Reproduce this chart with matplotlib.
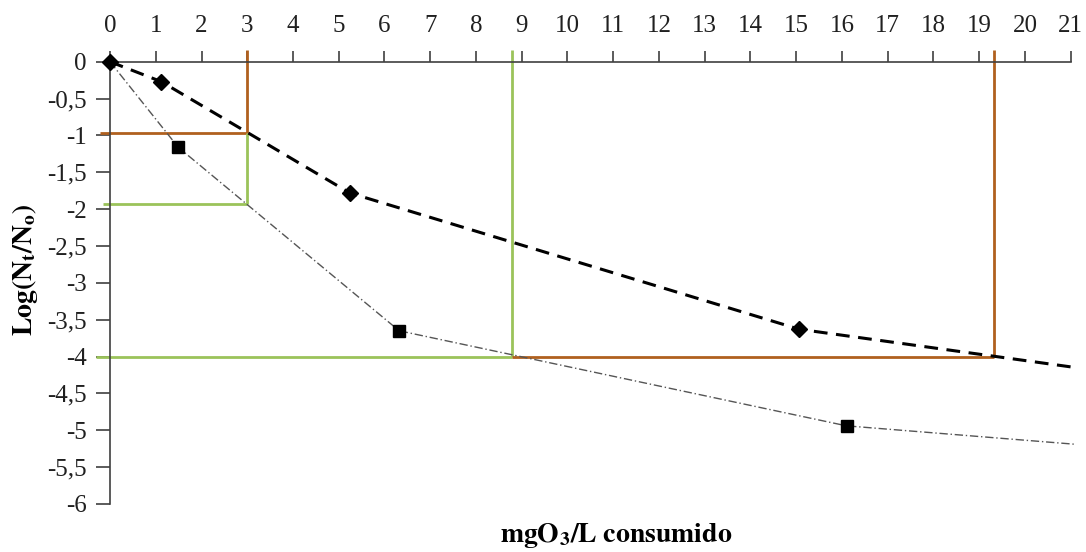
import numpy as np
import matplotlib
matplotlib.use('Agg')
import matplotlib.pyplot as plt
from matplotlib.ticker import FuncFormatter

# ── Data ────────────────────────────────────────────────────
# series A: diamonds, dashed line (last point = end of line, no marker)
a_x = [0, 1.12, 5.24, 15.07]
a_y = [0, -0.27, -1.78, -3.63]
a_end = (21.0, -4.14)

# series B: squares, dash-dot line
b_x = [0, 1.49, 6.32, 16.1]
b_y = [0, -1.16, -3.65, -4.94]
b_end = (21.1, -5.19)

# guide lines (x read-offs at log -1, -2, -4)
ga_small = 3.0      # dose for -1 (A) / -2 (B)
ga_a1 = -0.97
gb_b1 = -1.93
g4_b = 8.79         # dose for -4, series B
g4_a = 19.33        # dose for -4, series A
g4 = -4.0

BROWN = '#b0601e'
GREEN = '#9bc35a'
AXC = '#404040'

plt.rcParams['font.family'] = ['Liberation Serif', 'DejaVu Serif']
plt.rcParams['mathtext.fontset'] = 'stix'

fig = plt.figure(figsize=(10.86, 5.52), dpi=100, facecolor='white')
ax = fig.add_axes([0.1013, 0.0870, 0.8846, 0.8012])

ax.set_xlim(0, 21)
ax.set_ylim(-6, 0)

# guide lines
kw = dict(linewidth=2, clip_on=False, zorder=2, solid_capstyle='butt')
ax.plot([ga_small, ga_small], [0.16, ga_a1], color=BROWN, **kw)
ax.plot([-0.22, ga_small], [ga_a1, ga_a1], color=BROWN, **kw)
ax.plot([ga_small, ga_small], [ga_a1, gb_b1], color=GREEN, **kw)
ax.plot([-0.15, ga_small], [gb_b1, gb_b1], color=GREEN, **kw)
ax.plot([g4_b, g4_b], [0.16, g4], color=GREEN, **kw)
ax.plot([-0.3, g4_b], [g4, g4], color=GREEN, **kw)
ax.plot([g4_a, g4_a], [0.16, g4], color=BROWN, **kw)
ax.plot([g4_b, g4_a], [g4, g4], color=BROWN, **kw)

# series lines
ax.plot(a_x + [a_end[0]], a_y + [a_end[1]], color='black', linewidth=2.2,
        linestyle=(0, (4.5, 2.8)), zorder=3, clip_on=False)
ax.plot(b_x + [b_end[0]], b_y + [b_end[1]], color='#555555', linewidth=1.0,
        linestyle=(0, (6, 2, 1, 2)), zorder=3, clip_on=False)

# markers
ax.plot(a_x, a_y, linestyle='none', marker='D', markersize=8,
        color='black', zorder=4, clip_on=False)
ax.plot(b_x[1:], b_y[1:], linestyle='none', marker='s', markersize=8,
        color='black', zorder=4, clip_on=False)

# axes styling
ax.xaxis.set_ticks_position('top')
ax.set_xticks(np.arange(0, 22, 1))
ax.set_yticks(np.arange(-6, 0.5, 0.5))
ax.yaxis.set_major_formatter(
    FuncFormatter(lambda v, _: f'{v:g}'.replace('.', ',').replace('−', '-')))
ax.tick_params(axis='x', direction='out', length=8, width=1.2, color=AXC,
               labelsize=18, pad=10, labelcolor='#202020')
ax.tick_params(axis='y', direction='out', length=10, width=1.2, color=AXC,
               labelsize=18, pad=7, labelcolor='#202020')

for s in ['bottom', 'right']:
    ax.spines[s].set_visible(False)
for s in ['top', 'left']:
    ax.spines[s].set_color(AXC)
    ax.spines[s].set_linewidth(1.2)

# axis titles
fig.text(25 / 1086, 1 - 270 / 552, r'$\mathbf{Log(N_t/N_o)}$', fontsize=20,
         rotation=90, ha='center', va='center')
fig.text(616 / 1086, 1 - 536 / 552, r'$\mathbf{mgO_3/L\ consumido}$',
         fontsize=20, ha='center', va='center')

fig.savefig('out.png', dpi=100, facecolor='white')
